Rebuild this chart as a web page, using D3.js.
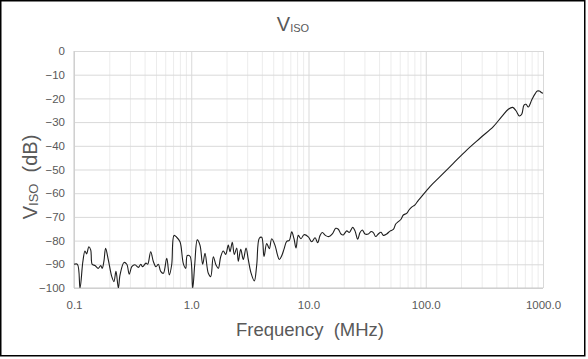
<!DOCTYPE html>
<html>
<meta charset="utf-8">
<head>
<style>
  body { margin: 0; background: #fff; }
  text { font-family: "Liberation Sans", Arial, sans-serif; fill: #595959; }
</style>
</head>
<body>
<svg id="chart" width="588" height="359"></svg>
<script src="https://d3js.org/d3.v7.min.js"></script>
<script>

// frequency (MHz) and isolation (dB)
var freqMHz = [
  0.1, 0.107, 0.1125, 0.119, 0.124, 0.128, 0.134, 0.139, 0.143, 0.151,
  0.161, 0.169, 0.174, 0.180, 0.186, 0.196, 0.210, 0.219, 0.228, 0.239,
  0.247, 0.267, 0.282, 0.296, 0.311, 0.331, 0.354, 0.371, 0.385, 0.411,
  0.425, 0.451, 0.475, 0.500, 0.524, 0.549, 0.578, 0.618, 0.650, 0.681,
  0.713, 0.751, 0.802, 0.856, 0.897, 0.925, 0.976, 1.029, 1.070, 1.126,
  1.188, 1.252, 1.310, 1.398, 1.465, 1.542, 1.626, 1.701, 1.783, 1.877,
  1.967, 2.070, 2.141, 2.239, 2.329, 2.442, 2.520, 2.642, 2.780, 2.931,
  3.066, 3.233, 3.450, 3.617, 3.806, 3.990, 4.174, 4.401, 4.632, 4.856,
  5.181, 5.420, 5.636, 5.909, 6.182, 6.519, 6.861, 7.193, 7.524, 7.825,
  8.185, 8.630, 9.155, 9.963, 10.65, 11.37, 11.98, 12.53, 13.12, 14.02,
  14.96, 15.97, 17.07, 17.96, 18.93, 19.81, 21.18, 22.28, 23.82, 24.92,
  26.28, 27.50, 28.77, 30.34, 32.36, 34.13, 35.70, 37.43, 39.39, 41.53,
  43.45, 46.45, 49.57, 52.89, 55.45, 58.34, 61.52, 64.36, 68.81, 71.98,
  75.90, 80.99, 86.41, 89.35, 108.7, 132.3, 171.8, 223.5, 290.2, 377.0,
  444.6, 506.1, 551.7, 588.7, 628.1, 658.4, 688.7, 716.4, 749.4, 801.1,
  855.1, 894.3, 930.0, 975.0, 1000
];
var vIsoDb = [
  -90, -90, -100, -88.9, -84.4, -85.6, -82.6, -84, -90, -90.5,
  -91.7, -90.5, -91.7, -88.7, -83.3, -88, -95.2, -97.3, -93, -100,
  -94.5, -89.2, -90, -94.2, -91, -90.2, -91.3, -90, -91, -89.5,
  -90, -84.7, -88.8, -91, -90, -93, -93.8, -87.5, -94.5, -90.2,
  -77.8, -78.6, -80.5, -89.7, -91.7, -86.3, -86.6, -100, -90.3, -79.7,
  -82, -90, -85.4, -93.8, -95.2, -86.8, -90.3, -91.7, -86.8, -84.4,
  -85.8, -81.9, -84.7, -80.7, -85.8, -83.1, -88.7, -83.7, -88, -83.1,
  -88, -93.6, -97, -90.3, -79, -78.6, -86.8, -81.2, -83.4, -79.2,
  -82, -85.8, -88, -86.4, -83.6, -80.3, -79.9, -76.3, -79.2, -83.1,
  -77.8, -79.2, -77.5, -78.4, -80.5, -78.8, -80.9, -77.9, -76.6, -77.9,
  -78.3, -77.2, -74.8, -75.2, -77.2, -77.6, -75.9, -76.6, -74.4, -75.9,
  -79.4, -76.6, -75.5, -77.2, -77.2, -76.2, -76.6, -78.3, -77.2, -76.5,
  -77.8, -77.2, -76, -75.3, -73, -72, -71, -69.2, -68.5, -67.1,
  -65.9, -64.9, -63, -62.2, -57.2, -53, -47.4, -41.8, -36.8, -31.9,
  -27.7, -24.6, -23.8, -25.2, -27.4, -26.7, -22.8, -22.5, -23.6, -20.7,
  -18.1, -16.9, -16.9, -17.6, -17.8
];

var yTicks = d3.range(-100, 1, 10);
var xMajor = [0.1, 1, 10, 100, 1000];

var svg = d3.select('#chart');
var plotL = 74, plotR = 543, plotT = 51, plotB = 288;

var x = d3.scaleLog().domain([0.1, 1000]).range([plotL, plotR]);
var y = d3.scaleLinear().domain([-100, 0]).range([plotB, plotT]);

// minor vertical grid (2..9 per decade)
var xMinor = [];
xMajor.slice(0, -1).forEach(function(d) {
  for (var k = 2; k < 10; k++) xMinor.push(d * k);
});

svg.append('g')
  .attr('transform', 'translate(0,' + plotB + ')')
  .call(d3.axisBottom(x).tickValues(xMinor).tickSize(-(plotB - plotT)).tickFormat(''))
  .call(function(g) {
    g.select('.domain').remove();
    g.selectAll('line').attr('stroke', '#ececec');
  });

svg.append('g')
  .attr('transform', 'translate(0,' + plotB + ')')
  .call(d3.axisBottom(x).tickValues(xMajor).tickSize(-(plotB - plotT)).tickFormat(''))
  .call(function(g) {
    g.select('.domain').remove();
    g.selectAll('line').attr('stroke', '#d9d9d9');
  });

svg.append('g')
  .attr('transform', 'translate(' + plotL + ',0)')
  .call(d3.axisLeft(y).tickValues(yTicks).tickSize(-(plotR - plotL)).tickFormat(''))
  .call(function(g) {
    g.select('.domain').remove();
    g.selectAll('line').attr('stroke', '#d9d9d9');
  });

// axis lines
svg.append('line').attr('x1', plotL).attr('x2', plotL).attr('y1', plotT).attr('y2', plotB)
  .attr('stroke', '#c8c8c8');
svg.append('line').attr('x1', plotL).attr('x2', plotR).attr('y1', plotB).attr('y2', plotB)
  .attr('stroke', '#c8c8c8');

// tick labels
svg.append('g')
  .attr('transform', 'translate(' + plotL + ',0)')
  .call(d3.axisLeft(y).tickValues(yTicks).tickSize(0).tickPadding(9).tickFormat(d3.format('d')))
  .call(function(g) {
    g.select('.domain').remove();
    g.selectAll('text').style('font-size', '11.5px').style('fill', '#595959')
      .style('font-family', '"Liberation Sans", Arial, sans-serif');
  });

svg.append('g')
  .attr('transform', 'translate(0,' + plotB + ')')
  .call(d3.axisBottom(x).tickValues(xMajor).tickSize(0).tickPadding(13).tickFormat(d3.format('.1f')))
  .call(function(g) {
    g.select('.domain').remove();
    g.selectAll('text').style('font-size', '11.5px').style('fill', '#595959')
      .style('font-family', '"Liberation Sans", Arial, sans-serif');
  });

// the curve
svg.append('clipPath').attr('id', 'plot')
  .append('rect').attr('x', plotL).attr('y', plotT).attr('width', plotR - plotL).attr('height', plotB - plotT);

var line = d3.line()
  .x(function(d, i) { return x(freqMHz[i]); })
  .y(function(d) { return y(d); })
  .curve(d3.curveCatmullRom.alpha(0.5));

svg.append('path')
  .datum(vIsoDb)
  .attr('clip-path', 'url(#plot)')
  .attr('fill', 'none')
  .attr('stroke', '#1e1e1e')
  .attr('stroke-width', 1.1)
  .attr('d', line);

// title
var title = svg.append('text').attr('x', 293).attr('y', 31).attr('text-anchor', 'middle');
title.append('tspan').text('V').style('font-size', '20px');
title.append('tspan').text('ISO').style('font-size', '11px').attr('dy', 1);

// y axis title
var yt = svg.append('text')
  .attr('transform', 'translate(37,177) rotate(-90)')
  .attr('text-anchor', 'middle')
  .style('white-space', 'pre');
yt.append('tspan').text('V').style('font-size', '20px');
yt.append('tspan').text('ISO').style('font-size', '13px').attr('dy', 1);
yt.append('tspan').text('  (dB)').style('font-size', '20px').attr('dy', -1);

// x axis title
svg.append('text')
  .attr('x', 310).attr('y', 336)
  .attr('text-anchor', 'middle')
  .style('font-size', '18.5px')
  .style('white-space', 'pre')
  .text('Frequency  (MHz)');

// outer frame
svg.append('rect')
  .attr('x', 0.75).attr('y', 0.75).attr('width', 584).attr('height', 355)
  .attr('fill', 'none').attr('stroke', '#000').attr('stroke-width', 1.5);

</script>
</body>
</html>
